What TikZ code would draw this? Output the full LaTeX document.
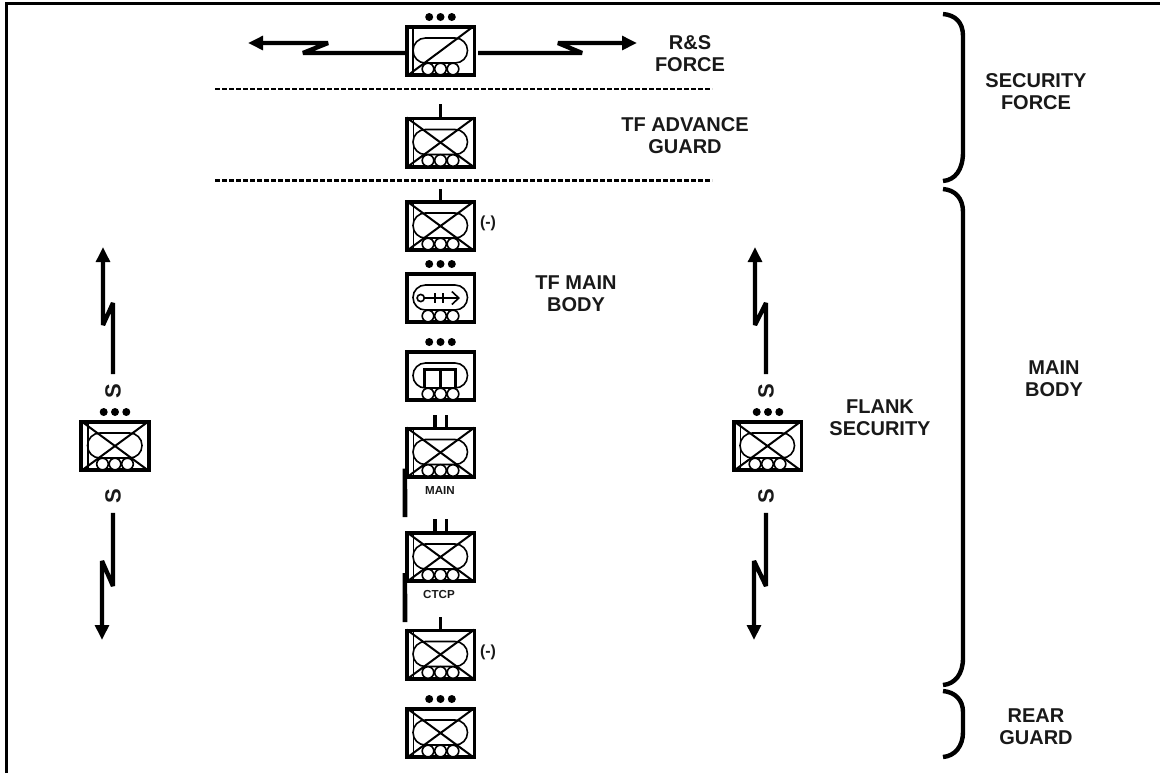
\documentclass[tikz,border=0pt]{standalone}
\usepackage{fontspec}
\setmainfont{Liberation Sans}
\usetikzlibrary{arrows.meta}
\tikzstyle{bx}=[draw, line width=1.8pt, minimum width=33.8pt, minimum height=24.2pt, inner sep=0]
\tikzstyle{thn}=[line width=0.8pt]
\tikzstyle{lnk}=[line width=2.2pt, line join=bevel, -{Triangle[length=7.5pt,width=6.8pt]}]
\tikzstyle{dsh}=[line width=1.2pt, dash pattern=on 2.6pt off 0.9pt]
\tikzstyle{brc}=[line width=2.2pt]
\tikzstyle{tck}=[line width=1.6pt]
\tikzstyle{flg}=[line width=2.3pt]
\tikzstyle{lbl}=[font=\fontsize{10pt}{11pt}\selectfont\bfseries, align=center, inner sep=0, text=black!90]
\tikzstyle{sml}=[font=\fontsize{8pt}{9pt}\selectfont\bfseries, inner sep=0, text=black!90]
\tikzstyle{tag}=[font=\fontsize{5.8pt}{7pt}\selectfont\bfseries, inner sep=0, text=black!90]
\tikzstyle{sgn}=[font=\fontsize{11pt}{12pt}\selectfont\bfseries, rotate=90, inner ysep=0, inner xsep=4.6pt, text=black!90]
\newcommand{\hull}[3]{
    \node[bx] (#1) at (#2,#3) {};
    \draw[thn, rounded corners=6.2pt] (#2-27.5,#3-13) rectangle (#2+27,#3+12);
}
\newcommand{\wheels}[2]{
    \foreach \dx in {-12.5,0,12.5}
        \draw[thn, fill=white] (#1+\dx,#2+18) circle (5.8);
}
\newcommand{\mech}[3]{
    \hull{#1}{#2}{#3}
    \draw[thn] (#2-27,#3-25) -- (#2-27,#3+25);
    \draw[line width=1pt] (#2-34,#3-25) -- (#2+34,#3+25);
    \draw[line width=1pt] (#2+34,#3-25) -- (#2-34,#3+25);
    \wheels{#2}{#3}
}
\newcommand{\trio}[2]{
    \foreach \dx in {-11.3,0,11.3}
        \fill (#1+\dx,#2) circle (4);
}
\begin{document}
\begin{tikzpicture}[x=0.5pt, y=-0.5pt]
    \useasboundingbox (0,0) rectangle (1160,773);
    \draw[line width=1.5pt] (6.2,773) -- (6.2,3.5) -- (1160,3.5);

    % centre column
    \hull{rs}{440.5}{51}
    \draw[thn] (413,26) -- (413,76);
    \draw[line width=1pt] (474,26) -- (407,76);
    \wheels{440.5}{51}
    \trio{440.5}{17}
    \mech{adv}{440.5}{142.5}
    \mech{lead}{440.5}{226}
    \hull{arty}{440.5}{298}
    \wheels{440.5}{298}
    \trio{440.5}{264}
    \hull{engr}{440.5}{376}
    \draw[line width=1.5pt] (424,387) -- (424,369) -- (455,369) -- (455,387);
    \draw[line width=1.5pt] (440,369) -- (440,387);
    \wheels{440.5}{376}
    \trio{440.5}{342}
    \mech{main}{440.5}{452.5}
    \mech{ctcp}{440.5}{557}
    \mech{trail}{440.5}{654.5}
    \mech{rear}{440.5}{733}
    \trio{440.5}{699}

    % mortar symbol
    \node[draw, thn, circle, minimum size=3.6pt, inner sep=0] (base) at (420.7,298) {};
    \coordinate (head) at (460,298);
    \draw[thn, -{Straight Barb[length=3.5pt,width=6.5pt]}] (base) -- (head);
    \draw[thn] (435,293) -- (435,303);
    \draw[thn] (443,293) -- (443,303);

    % echelon ticks
    \draw[tck] (adv.north) -- +(0,-13);
    \draw[tck] (lead.north) -- +(0,-11);
    \draw[tck] (trail.north) -- +(0,-12);
    \draw[tck] ([xshift=-2.8pt]main.north) -- +(0,-12);
    \draw[tck] ([xshift=2.8pt]main.north) -- +(0,-12);
    \draw[tck] ([xshift=-2.8pt]ctcp.north) -- +(0,-12);
    \draw[tck] ([xshift=2.8pt]ctcp.north) -- +(0,-12);

    % flags
    \coordinate (mainf) at (405,517);
    \coordinate (ctcpf) at (405,622);
    \draw[flg] ([yshift=5pt]main.south west) -- (mainf);
    \draw[flg] ([yshift=5pt]ctcp.south west) -- (ctcpf);

    % top links
    \coordinate (lz1) at (303,53);
    \coordinate (lz2) at (328,43);
    \coordinate (ltip) at (248,43);
    \coordinate (rz1) at (582,53);
    \coordinate (rz2) at (558,43);
    \coordinate (rtip) at (637,43);
    \draw[lnk] (rs.west |- lz1) -- (lz1) -- (lz2) -- (ltip);
    \draw[lnk] ([xshift=1pt]rs.east |- rz1) -- (rz1) -- (rz2) -- (rtip);

    % dashed lines
    \coordinate (d1a) at (215,88.7);
    \coordinate (d1b) at (712,88.7);
    \coordinate (d2a) at (215,180.5);
    \coordinate (d2b) at (712,180.5);
    \draw[dsh] (d1a) -- (d1b);
    \draw[dsh] (d2a) -- (d2b);

    % flanks
    \mech{lflank}{115}{446}
    \trio{115}{412}
    \mech{rflank}{767.5}{446}
    \trio{768}{412}
    \node[sgn] (ls1) at (113,391) {S};
    \node[sgn] (ls2) at (113,496) {S};
    \node[sgn] (rs1) at (766,391) {S};
    \node[sgn] (rs2) at (766,496) {S};
    \coordinate (lu1) at (113,303);
    \coordinate (lu2) at (103,325);
    \coordinate (lutip) at (103,247);
    \coordinate (ld1) at (113,586);
    \coordinate (ld2) at (102,561);
    \coordinate (ldtip) at (102,640);
    \coordinate (ru1) at (766,303);
    \coordinate (ru2) at (755,325);
    \coordinate (rutip) at (755,247);
    \coordinate (rd1) at (766,586);
    \coordinate (rd2) at (754,561);
    \coordinate (rdtip) at (754,640);
    \draw[lnk] (ls1.east) -- (lu1) -- (lu2) -- (lutip);
    \draw[lnk] (ls2.west) -- (ld1) -- (ld2) -- (ldtip);
    \draw[lnk] (rs1.east) -- (ru1) -- (ru2) -- (rutip);
    \draw[lnk] (rs2.west) -- (rd1) -- (rd2) -- (rdtip);

    % braces
    \draw[brc] (943,14) .. controls (955,15) and (963,22) .. (963,36) -- (963,152) .. controls (963,170) and (955,180) .. (943,181);
    \draw[brc] (943,189) .. controls (955,190) and (963,198) .. (963,212) -- (963,658) .. controls (963,674) and (955,684) .. (943,685);
    \draw[brc] (943,691) .. controls (955,692) and (963,700) .. (963,712) -- (963,732) .. controls (963,746) and (955,756) .. (943,757);

    % labels
    \node[lbl] (rslab) at (690,54) {R\&S\\FORCE};
    \node[lbl] (advlab) at (685,136) {TF ADVANCE\\GUARD};
    \node[lbl] (bodylab) at (576,294) {TF MAIN\\BODY};
    \node[lbl] (flanklab) at (880,418) {FLANK\\SECURITY};
    \node[lbl] (seclab) at (1036,92) {SECURITY\\FORCE};
    \node[lbl] (mainlab) at (1054,379) {MAIN\\BODY};
    \node[lbl] (rearlab) at (1036,727) {REAR\\GUARD};
    \node[sml] (minus1) at (488,223) {(-)};
    \node[sml] (minus2) at (488,652) {(-)};
    \node[tag] (mainsig) at (440,490) {MAIN};
    \node[tag] (ctcpsig) at (439,594) {CTCP};
\end{tikzpicture}
\end{document}
